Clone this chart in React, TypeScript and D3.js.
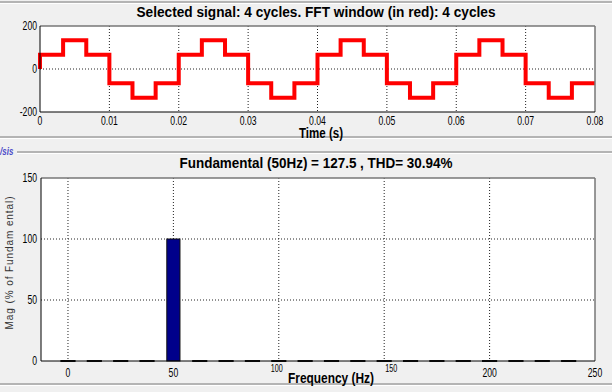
import React, { useEffect, useRef } from 'react';
import * as d3 from 'd3';

// time-domain signal: breakpoints (s) and the level held after each one
const sigTimes = [
  0, 0.00333, 0.00667, 0.01, 0.01333, 0.01667,
  0.02, 0.02333, 0.02667, 0.03, 0.03333, 0.03667,
  0.04, 0.04333, 0.04667, 0.05, 0.05333, 0.05667,
  0.06, 0.06333, 0.06667, 0.07, 0.07333, 0.07667,
];
const sigLevels = [
  66.7, 133.3, 66.7, -66.7, -133.3, -66.7,
  66.7, 133.3, 66.7, -66.7, -133.3, -66.7,
  66.7, 133.3, 66.7, -66.7, -133.3, -66.7,
  66.7, 133.3, 66.7, -66.7, -133.3, -66.7,
];
const timeTicks = [0, 0.01, 0.02, 0.03, 0.04, 0.05, 0.06, 0.07, 0.08];
const sigTicks = [-200, 0, 200];

// spectrum
const freqs = [
  0, 12.5, 25, 37.5, 50, 62.5, 75, 87.5, 100, 112.5,
  125, 137.5, 150, 162.5, 175, 187.5, 200, 212.5, 225, 237.5,
];
const mags = [0, 0, 0, 0, 100, 0, 0, 0, 0, 0, 0, 0, 0, 0, 0, 0, 0, 0, 0, 0];
const freqTicks = [0, 50, 100, 150, 200, 250];
const magTicks = [0, 50, 100, 150];

const W = 612;
const H = 392;
const FONT = '"Liberation Sans", Arial, sans-serif';

export default function App() {
  const svgRef = useRef<SVGSVGElement>(null);

  useEffect(() => {
    document.body.style.margin = '0';
    if (!svgRef.current) return;
    const svg = d3.select(svgRef.current);
    svg.selectAll('*').remove();

    svg.append('rect').attr('width', W).attr('height', H).attr('fill', '#f0f0f0');

    // narrow-looking text: squeeze horizontally
    const label = (x: number, y: number, str: string, size: number, anchor = 'middle', sx = 0.72) =>
      svg.append('text')
        .attr('transform', `translate(${x},${y}) scale(${sx},1)`)
        .attr('text-anchor', anchor).attr('font-family', FONT).attr('font-size', size)
        .attr('fill', '#000').text(str);

    const title = (x: number, y: number, str: string, size: number, len: number) =>
      svg.append('text').attr('x', x).attr('y', y).attr('text-anchor', 'middle')
        .attr('font-family', FONT).attr('font-size', size).attr('font-weight', 'bold')
        .attr('textLength', len).attr('lengthAdjust', 'spacingAndGlyphs').text(str);

    // panel frame lines
    const hline = (y: number, x1: number, x2: number) => {
      svg.append('line').attr('x1', x1).attr('x2', x2).attr('y1', y).attr('y2', y)
        .attr('stroke', '#a0a0a0').attr('stroke-width', 1.5);
      svg.append('line').attr('x1', x1).attr('x2', x2).attr('y1', y + 1.5).attr('y2', y + 1.5)
        .attr('stroke', '#ffffff').attr('stroke-width', 1);
    };
    hline(2, 0, W);
    hline(137, 0, W);
    hline(152, 17, W);
    hline(384, 0, W);

    svg.append('text').attr('transform', 'translate(0,155) scale(0.8,1)')
      .attr('font-family', FONT).attr('font-size', 10).attr('font-style', 'italic')
      .attr('font-weight', 'bold').attr('fill', '#4a4ac8').text('/sis');

    const drawBox = (l: number, t: number, r: number, b: number) => {
      svg.append('line').attr('x1', l).attr('x2', r).attr('y1', t).attr('y2', t).attr('stroke', '#777').attr('stroke-width', 1.5);
      svg.append('line').attr('x1', r).attr('x2', r).attr('y1', t).attr('y2', b).attr('stroke', '#777').attr('stroke-width', 1.5);
      svg.append('line').attr('x1', l).attr('x2', l).attr('y1', t).attr('y2', b).attr('stroke', '#000').attr('stroke-width', 1);
      svg.append('line').attr('x1', l).attr('x2', r).attr('y1', b).attr('y2', b).attr('stroke', '#000').attr('stroke-width', 1);
    };

    // ---------- top: signal ----------
    const t = { l: 40, r: 595, t: 26, b: 112 };
    const xT = d3.scaleLinear().domain([0, 0.08]).range([t.l, t.r]);
    const yT = d3.scaleLinear().domain([-200, 200]).range([t.b, t.t]);

    svg.append('rect').attr('x', t.l).attr('y', t.t).attr('width', t.r - t.l).attr('height', t.b - t.t).attr('fill', '#fff');

    const gridTop = svg.append('g').attr('stroke', '#222').attr('stroke-width', 1).attr('stroke-dasharray', '1,2');
    timeTicks.slice(1, -1).forEach(v => {
      gridTop.append('line').attr('x1', xT(v)).attr('x2', xT(v)).attr('y1', t.t).attr('y2', t.b);
    });
    gridTop.append('line').attr('x1', t.l).attr('x2', t.r).attr('y1', yT(0)).attr('y2', yT(0));

    const pts: [number, number][] = [[0, 0]];
    sigTimes.forEach((tt, i) => pts.push([tt, sigLevels[i]]));
    pts.push([0.08, sigLevels[sigLevels.length - 1]]);
    const line = d3.line<[number, number]>()
      .x(d => xT(d[0]))
      .y(d => yT(d[1]))
      .curve(d3.curveStepAfter);
    svg.append('path').datum(pts).attr('d', line).attr('fill', 'none')
      .attr('stroke', '#ff0000').attr('stroke-width', 4).attr('stroke-linejoin', 'miter');

    drawBox(t.l, t.t, t.r, t.b);

    timeTicks.forEach(v => label(xT(v), t.b + 13, v === 0 ? '0' : d3.format('.2f')(v), 12));
    sigTicks.forEach(v => label(t.l - 3, yT(v) + 4, String(v), 12, 'end'));

    title(316, 17, 'Selected signal: 4 cycles. FFT window (in red): 4 cycles', 15, 359);
    title(321, 138, 'Time (s)', 14, 44);

    // ---------- bottom: spectrum ----------
    const s = { l: 41, r: 595, t: 178, b: 361 };
    const xF = d3.scaleLinear().domain([-12.8, 250]).range([s.l, s.r]);
    const yF = d3.scaleLinear().domain([0, 150]).range([s.b, s.t]);
    const barW = xF(6.25) - xF(0);

    svg.append('rect').attr('x', s.l).attr('y', s.t).attr('width', s.r - s.l).attr('height', s.b - s.t).attr('fill', '#fff');

    const gridBot = svg.append('g').attr('stroke', '#222').attr('stroke-width', 1).attr('stroke-dasharray', '1,2');
    freqTicks.slice(0, -1).forEach(v => {
      gridBot.append('line').attr('x1', xF(v)).attr('x2', xF(v)).attr('y1', s.t).attr('y2', s.b);
    });
    magTicks.slice(1, -1).forEach(v => {
      gridBot.append('line').attr('x1', s.l).attr('x2', s.r).attr('y1', yF(v)).attr('y2', yF(v));
    });

    freqs.forEach((f, i) => {
      const h = yF(0) - yF(mags[i]);
      svg.append('rect')
        .attr('x', xF(f) - barW / 2).attr('y', yF(mags[i]))
        .attr('width', barW).attr('height', Math.max(h, 0.01))
        .attr('fill', '#00008b').attr('stroke', '#111').attr('stroke-width', h > 0 ? 1 : 2);
    });

    drawBox(s.l, s.t, s.r, s.b);

    // the 100 and 150 labels sit raised and smaller next to the axis title, as in the source figure
    freqTicks.forEach(v => {
      const raised = v === 100 || v === 150;
      label(xF(v) + (v === 150 ? 7 : v === 100 ? -2 : 0), s.b + (raised ? 11 : 16), String(v), raised ? 10 : 12);
    });
    magTicks.forEach(v => label(s.l - 4, yF(v) + 4, String(v), 12, 'end'));

    title(316, 168, 'Fundamental (50Hz) = 127.5 , THD= 30.94%', 15, 273);
    title(331, 383, 'Frequency (Hz)', 14, 86);
    svg.append('text')
      .attr('transform', `translate(13,263) rotate(-90)`)
      .attr('text-anchor', 'middle').attr('font-family', FONT).attr('font-size', 10)
      .attr('textLength', 133).attr('lengthAdjust', 'spacing').attr('fill', '#333')
      .text('Mag (% of Fundam ental)');
  }, []);

  return <svg ref={svgRef} width={W} height={H} style={{ display: 'block' }} />;
}
